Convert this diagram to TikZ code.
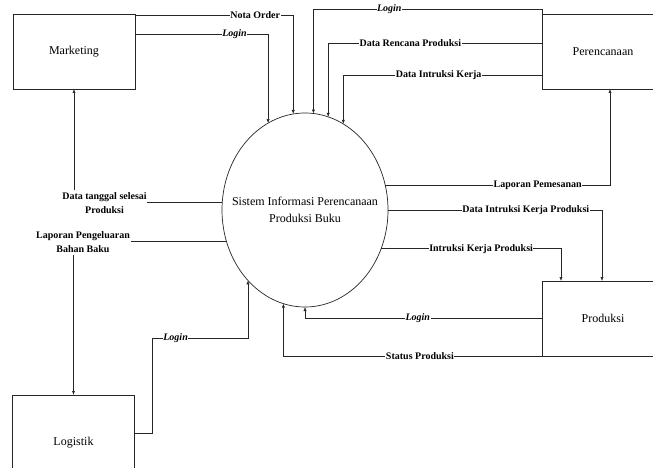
\documentclass[tikz,border=0pt]{standalone}
\usepackage{fontspec}
\setmainfont{Liberation Serif}
\usetikzlibrary{arrows.meta,shapes.geometric}

\begin{document}
\begin{tikzpicture}[x=1pt,y=-1pt,
  entity/.style={draw=black!85, line width=0.7pt, minimum width=122pt, minimum height=75pt,
    inner sep=0pt, outer sep=0pt, font=\fontsize{12}{14}\selectfont},
  process/.style={ellipse, draw=black!85, line width=0.7pt, minimum width=166pt, minimum height=194pt,
    inner sep=0pt, outer sep=0pt},
  ptext/.style={align=center, inner sep=0pt, font=\fontsize{12}{17}\selectfont},
  wire/.style={draw=black!85, line width=0.6pt},
  flow/.style={wire, -{Latex[length=4pt,width=3.2pt]}},
  lbl/.style={fill=white, inner xsep=0.5pt, inner ysep=1pt, font=\fontsize{10}{12}\selectfont\bfseries},
  lbli/.style={lbl, font=\fontsize{10}{12}\selectfont\bfseries\itshape},
  side/.style={inner xsep=0.5pt, inner ysep=2pt, align=center, font=\fontsize{10}{14}\selectfont\bfseries}
]
\clip (0,0) rectangle (653,468);

% external entities
\node[entity] (mkt)  at (74,51.5)  {Marketing};
\node[entity] (plan) at (603,51.5) {Perencanaan};
\node[entity] (prod) at (603,318.5) {Produksi};
\node[entity, minimum height=96pt] (log) at (73.5,443) {Logistik};

% central process
\node[process] (sys) at (305,210) {};
\node[ptext] (systext) at (sys.center) {Sistem Informasi Perencanaan\\Produksi Buku};

% flows from Marketing
\draw[flow] ([yshift=-1pt]mkt.north east) -| node[lbl,pos=0.38]{Nota Order} (sys.97.7);
\draw[flow] ([yshift=-20pt]mkt.north east) -| node[lbli,pos=0.374]{Login} (sys.113.1);

% flows from Perencanaan
\draw[flow] (plan.north west) -- ++(0,-5) -| node[lbli,pos=0.334]{Login} (sys.85.3);
\draw[flow] ([yshift=-29pt]plan.north west) -| node[lbl,pos=0.308]{Data Rencana Produksi} (sys.76.1);
\draw[flow] ([yshift=-61pt]plan.north west) -| node[lbl,pos=0.26]{Data Intruksi Kerja} (sys.66.9);

% flows to Perencanaan and Produksi
\draw[flow] (sys.17.3) -| node[lbl,pos=0.339]{Laporan Pemesanan} ([xshift=7pt]plan.south);
\draw[flow] (sys.0.7) -| node[lbl,pos=0.322]{Data Intruksi Kerja Produksi} ([xshift=-1pt]prod.north);
\draw[flow] (sys.-27.2) -| node[lbl,pos=0.278]{Intruksi Kerja Produksi} ([xshift=-42pt]prod.north);

% flows from Produksi
\draw[flow] (prod.west) -| node[lbli,pos=0.262]{Login} (sys.-90);
\draw[flow] (prod.south west) -| node[lbl,pos=0.236]{Status Produksi} (sys.-103.9);

% flow from Logistik
\draw[flow] ([yshift=10pt]log.east) -- ++(18,0) -- ++(0,-95) -| node[lbli,pos=0.121]{Login} (sys.-129.9);

% flows to Marketing and Logistik
\node[side] (dts) at (104.5,203) {Data tanggal selesai\\Produksi};
\draw[wire] (sys.175.2) -- (sys.175.2 -| dts.east);
\draw[flow] (dts.north -| mkt.south) -- (mkt.south);

\node[side] (lpb) at (83,242.5) {Laporan Pengeluaran\\Bahan Baku};
\draw[wire] (sys.202.2) -- (sys.202.2 -| lpb.east);
\draw[flow] (lpb.south -| log.north) -- (log.north);
\end{tikzpicture}
\end{document}
